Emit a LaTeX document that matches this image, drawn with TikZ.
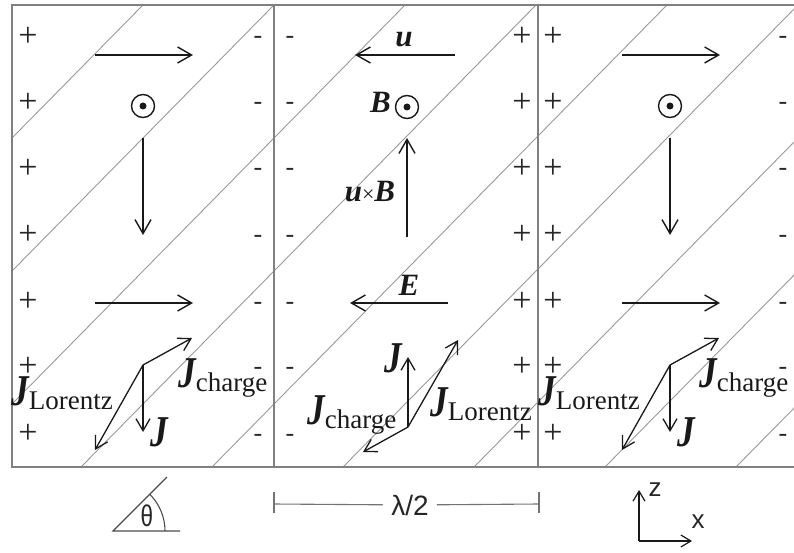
\documentclass[tikz,border=0pt]{standalone}
\usepackage{fontspec}
\setmainfont{Liberation Serif}
\newfontfamily\sansf{Liberation Sans}
\usetikzlibrary{arrows.meta}
\newcommand\vJ{{\fontsize{44}{44}\selectfont\bfseries\itshape\scalebox{0.8}[1]{J}}}
\newcommand\bv[1]{{\fontsize{31}{31}\selectfont\bfseries\itshape #1}}
\newcommand\subtxt[1]{\raisebox{-4pt}{\fontsize{27}{27}\selectfont #1}}
\newcommand\outerpanel[3]{%
 \begin{scope}[xshift=#2]
  \coordinate (#1ua) at (95,55); \coordinate (#1ub) at (193,55);
  \draw[vec] (#1ua) -- (#1ub);
  \node[odot] (#1B) at (143,106) {};
  \fill[ink] (#1B.center) circle (3.5pt);
  \coordinate (#1va) at (143,138); \coordinate (#1vb) at (143,235);
  \draw[vec] (#1va) -- (#1vb);
  \coordinate (#1ea) at (95,303); \coordinate (#1eb) at (193,303);
  \draw[vec] (#1ea) -- (#1eb);
  \coordinate (#1o) at (143,365);
  \coordinate (#1jc) at (192,338);
  \coordinate (#1j) at (143,432);
  \coordinate (#1jl) at (95,450);
  \draw[jvec] (#1o) -- (#1jc);
  \draw[jvec] (#1o) -- (#1j);
  \draw[jvec] (#1o) -- (#1jl);
  \node[lab,anchor=base west] (#1Jc) at (178+#3,387) {\vJ\subtxt{charge}};
  \node[lab,anchor=base west] (#1Jl) at (11,405) {\vJ\subtxt{Lorentz}};
  \node[lab,anchor=base west] (#1Jd) at (150,446) {\vJ};
 \end{scope}}
\begin{document}
\begin{tikzpicture}[x=1pt,y=-1pt,
  ink/.style={black!90},
  vec/.style={ink,line width=1.4pt,-{Straight Barb[length=14pt,width=16pt,line width=1.4pt]}},
  jvec/.style={ink,line width=1.3pt,-{Straight Barb[length=12pt,width=14pt,line width=1.3pt]}},
  diag/.style={black!40,line width=0.9pt},
  frame/.style={black!50,line width=1.5pt},
  odot/.style={circle,draw=black!90,line width=1.4pt,minimum size=23pt,inner sep=0},
  lab/.style={inner sep=0,text=black!90},
  plus/.style={inner sep=0,anchor=base,font=\fontsize{34}{34}\selectfont,text=black!85},
  minus/.style={inner sep=0,anchor=base,font=\fontsize{26}{26}\selectfont,text=black!85},
  sanslab/.style={inner sep=0,text=black!85,font=\sansf\fontsize{26}{26}\selectfont},
  thin/.style={black!55,line width=1.1pt}
]
\useasboundingbox (0,0) rectangle (794,553);
% diagonal stripes
\begin{scope}
  \clip (12,5) rectangle (800,467);
  \foreach \k in {0,...,8}
    \draw[diag] ({143+131*\k},5) -- ({143+131*\k-455},467);
\end{scope}
% frame
\draw[frame] (12,5) rectangle (800,467);
\draw[frame] (274,5) -- (274,467);
\draw[frame] (538,5) -- (538,467);
% signs
\foreach \yy [count=\i] in {38,104,170,236,303,368,435} {
  \node[plus]  (lp\i) at (28,\yy+8.5) {+};
  \node[minus] (lm\i) at (258,\yy+6) {-};
  \node[minus] (mm\i) at (290,\yy+6) {-};
  \node[plus]  (mp\i) at (522,\yy+8.5) {+};
  \node[plus]  (rp\i) at (553,\yy+8.5) {+};
  \node[minus] (rm\i) at (783,\yy+6) {-};
}
% outer panels
\outerpanel{L}{0pt}{0}
\outerpanel{R}{527pt}{-6}
% middle panel
\coordinate (Mua) at (455,55); \coordinate (Mub) at (355,55);
\draw[vec] (Mua) -- (Mub);
\node[lab,anchor=base] (Mu) at (404,47) {\bv{u}};
\node[odot] (MB) at (407,107) {};
\fill[ink] (MB.center) circle (3.5pt);
\node[lab,anchor=base east] (MBl) at (391,113) {\bv{B}};
\coordinate (Mxa) at (407,237); \coordinate (Mxb) at (407,138);
\draw[vec] (Mxa) -- (Mxb);
\node[lab,anchor=base] (Muxb) at (370,202) {\bv{u}{\fontsize{22}{22}\selectfont ×}\bv{B}};
\coordinate (Mea) at (448,303); \coordinate (Meb) at (350,303);
\draw[vec] (Mea) -- (Meb);
\node[lab,anchor=base] (ME) at (409,295) {\bv{E}};
\coordinate (Mo) at (408,427);
\coordinate (Mj) at (408,357);
\coordinate (Mjl) at (458,340);
\coordinate (Mjc) at (363,452);
\draw[jvec] (Mo) -- (Mj);
\draw[jvec] (Mo) -- (Mjl);
\draw[jvec] (Mo) -- (Mjc);
\node[lab,anchor=base west] (MJu) at (384,372) {\vJ};
\node[lab,anchor=base west] (MJc) at (307,424) {\vJ\subtxt{charge}};
\node[lab,anchor=base west] (MJl) at (430,416) {\vJ\subtxt{Lorentz}};
% theta
\coordinate (thO) at (113,531);
\coordinate (thB) at (180,531);
\coordinate (thS) at (167,477);
\draw[thin,black!70] (thB) -- (thO) -- (thS);
\draw[thin,black!70] (165,531) arc[start angle=0,end angle=45,radius=52pt];
\node[sanslab,font=\sansf\fontsize{30}{30}\selectfont] (th) at (147,516) {\scalebox{0.75}[1]{θ}};
% lambda/2
\coordinate (lt1) at (274,492); \coordinate (lb1) at (274,513);
\coordinate (lt2) at (539,492); \coordinate (lb2) at (539,513);
\coordinate (lm1) at (274,504); \coordinate (lm2) at (539,504);
\node[sanslab,font=\sansf\fontsize{28}{28}\selectfont,inner xsep=8pt] (lam) at (410,505) {λ/2};
\draw[thin] (lt1) -- (lb1);
\draw[thin] (lt2) -- (lb2);
\draw[thin] (lm1) -- (lam);
\draw[thin] (lam) -- (lm2);
% axes
\coordinate (ax0) at (639,541);
\coordinate (axz) at (639,490);
\coordinate (axx) at (692,541);
\draw[ink,line width=1.2pt,-{Straight Barb[length=10pt,width=12pt,line width=1.2pt]}] (ax0) -- (axz);
\draw[ink,line width=1.2pt,-{Straight Barb[length=10pt,width=12pt,line width=1.2pt]}] (ax0) -- (axx);
\node[sanslab] (zl) at (655,490) {z};
\node[sanslab] (xl) at (698,522) {x};
\end{tikzpicture}
\end{document}
